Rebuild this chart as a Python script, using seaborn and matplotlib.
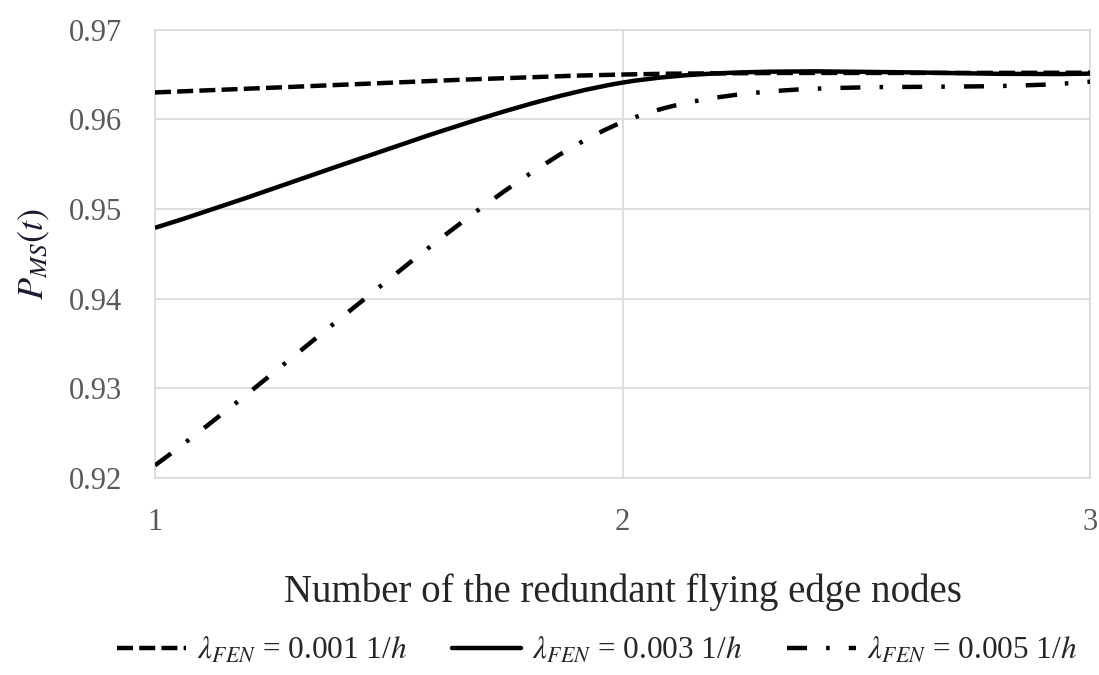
import matplotlib
matplotlib.use("Agg")
import matplotlib.pyplot as plt
from matplotlib.path import Path
from matplotlib.patches import PathPatch
from matplotlib.lines import Line2D
import seaborn as sns

# Data
nodes = [1, 2, 3]
p_fen_001 = [0.9630, 0.9650, 0.9652]
p_fen_003 = [0.9479, 0.9641, 0.9651]
p_fen_005 = [0.9214, 0.9597, 0.9642]
series_labels = [r'$\lambda_{FEN}$ = 0.001 1/$h$',
                 r'$\lambda_{FEN}$ = 0.003 1/$h$',
                 r'$\lambda_{FEN}$ = 0.005 1/$h$']
y_ticks = [0.92, 0.93, 0.94, 0.95, 0.96, 0.97]

sns.set_style("white")
plt.rcParams['font.family'] = ['Liberation Serif', 'DejaVu Serif']
plt.rcParams['mathtext.fontset'] = 'stix'

grid_col = '#d9d9d9'
tick_col = '#595959'


def smooth_path(xs, ys, tension=7.5):
    # Excel-like smoothed line: cubic Bezier segments through the data points
    n = len(xs)
    verts = [(xs[0], ys[0])]
    codes = [Path.MOVETO]
    for i in range(n - 1):
        x0, y0 = xs[i], ys[i]
        x1, y1 = xs[i + 1], ys[i + 1]
        xa, ya = (xs[i - 1], ys[i - 1]) if i > 0 else (x0, y0)
        xb, yb = (xs[i + 2], ys[i + 2]) if i + 2 < n else (x1, y1)
        k0 = tension if i > 0 else 3
        k1 = tension if i + 2 < n else 3
        c1 = (x0 + (x1 - xa) / k0, y0 + (y1 - ya) / k0)
        c2 = (x1 - (xb - x0) / k1, y1 - (yb - y0) / k1)
        verts += [c1, c2, (x1, y1)]
        codes += [Path.CURVE4] * 3
    return Path(verts, codes)


styles = [(0, (3.6, 1.4)), '-', (0, (4.5, 4.3, 0.8, 4.3))]
series = [p_fen_001, p_fen_003, p_fen_005]

fig, ax = plt.subplots(figsize=(10.99, 6.75), dpi=100)
fig.subplots_adjust(left=0.141, right=0.992, top=0.956, bottom=0.292)

handles = []
for vals, ls, lab in zip(series, styles, series_labels):
    ax.add_patch(PathPatch(smooth_path(nodes, vals), fill=False, color='black',
                           lw=3.2, linestyle=ls, zorder=3))
    handles.append(Line2D([], [], color='black', lw=3.2, linestyle=ls, label=lab))

ax.set_xlim(1, 3)
ax.set_ylim(0.92, 0.97)
ax.set_xticks(nodes)
ax.set_yticks(y_ticks)
ax.set_xticklabels([str(n) for n in nodes])
ax.set_yticklabels([f'{v:.2f}' for v in y_ticks])
ax.grid(True, color=grid_col, lw=1.2)
for s in ax.spines.values():
    s.set_color(grid_col)
    s.set_linewidth(1.2)
ax.tick_params(axis='both', length=0, labelsize=22, colors=tick_col)
ax.tick_params(axis='x', pad=22)
ax.tick_params(axis='y', pad=24)

ax.set_xlabel('Number of the redundant flying edge nodes', fontsize=28,
              color='#262626', labelpad=26)
ax.set_ylabel(r'$P_{MS}(t)$', fontsize=26, color='#1a1a2e', labelpad=12)

fig.legend(handles=handles, loc='lower center', bbox_to_anchor=(0.543, -0.028),
           ncol=3, frameon=False, fontsize=22.5, handlelength=2.2,
           handletextpad=0.35, columnspacing=1.45)

fig.savefig('out.png', dpi=100)
